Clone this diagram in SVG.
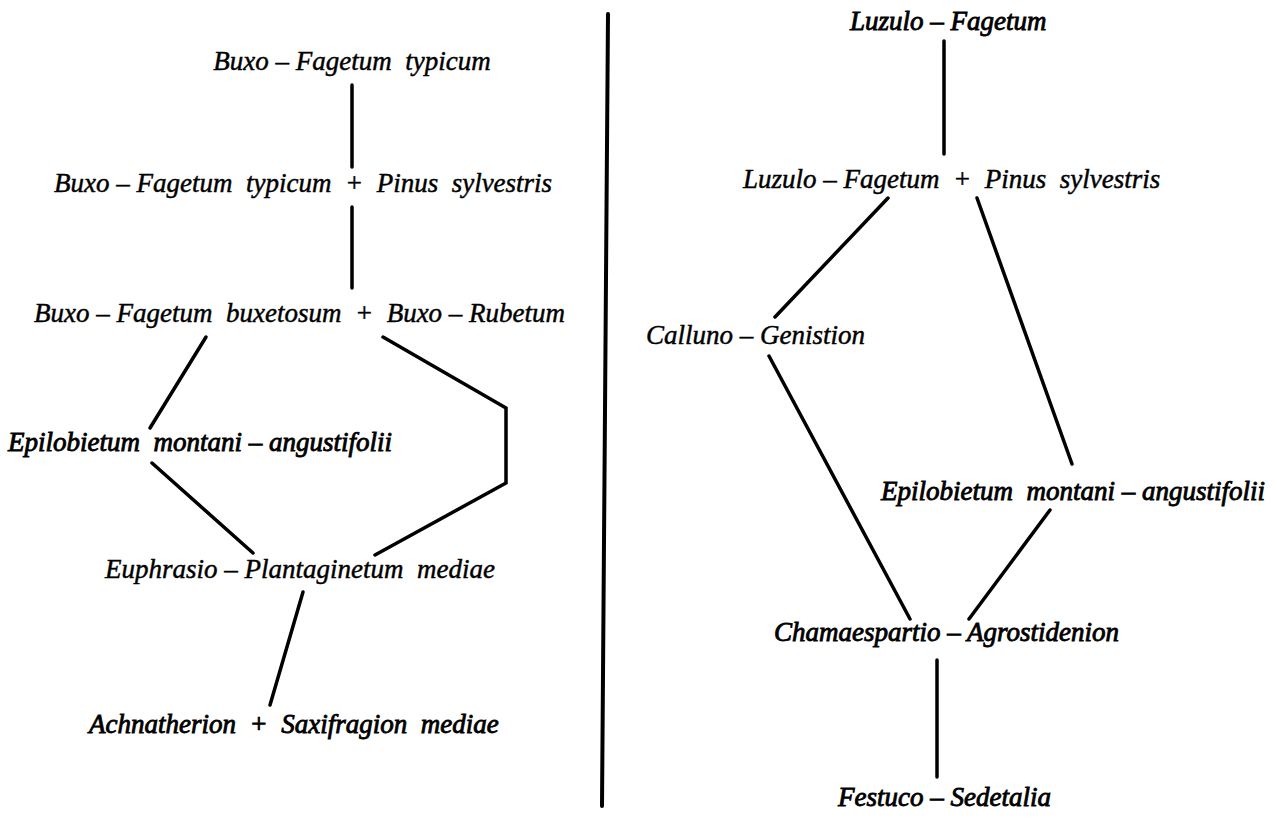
<svg xmlns="http://www.w3.org/2000/svg" width="1277" height="826" viewBox="0 0 1277 826">
  <style>
    .lbl { font-family: "Liberation Serif", "Times New Roman", serif; font-style: italic; font-size: 27px; fill: #000; stroke: #000; stroke-width: 0.45px; white-space: pre; }
    .heavy { stroke-width: 0.85px; }
    .edge { stroke: #000; stroke-width: 3.5; stroke-linecap: round; stroke-linejoin: miter; fill: none; }
    .divider { stroke: #000; stroke-width: 4; stroke-linecap: round; }
  </style>
  <rect width="1277" height="826" fill="#fff"/>

  <!-- column divider -->
  <line class="divider" x1="608" y1="14" x2="602" y2="806"/>

  <!-- connectors -->
  <g id="connectors">
    <!-- left succession -->
    <line class="edge" x1="352" y1="85" x2="352" y2="167"/>
    <line class="edge" x1="352" y1="207" x2="352" y2="288"/>
    <line class="edge" x1="206" y1="337" x2="150" y2="428"/>
    <polyline class="edge" points="383,337 506,408 506,483 375,555"/>
    <line class="edge" x1="152" y1="463" x2="253" y2="553"/>
    <line class="edge" x1="303" y1="592" x2="270" y2="705"/>
    <!-- right succession -->
    <line class="edge" x1="944" y1="41" x2="944" y2="154"/>
    <line class="edge" x1="888" y1="198" x2="775" y2="317"/>
    <line class="edge" x1="977" y1="198" x2="1072" y2="464"/>
    <line class="edge" x1="769" y1="356" x2="910" y2="619"/>
    <line class="edge" x1="1050" y1="510" x2="969" y2="619"/>
    <line class="edge" x1="937" y1="660" x2="937" y2="777"/>
  </g>

  <!-- left column -->
  <g id="buxo-fagetum-typicum"><text class="lbl" x="352" y="70" text-anchor="middle">Buxo – Fagetum  typicum</text></g>
  <g id="buxo-fagetum-typicum-pinus"><text class="lbl" x="54" y="192">Buxo – Fagetum  typicum  +  Pinus  sylvestris</text></g>
  <g id="buxo-fagetum-buxetosum-rubetum"><text class="lbl" x="34" y="322">Buxo – Fagetum  buxetosum  +  Buxo – Rubetum</text></g>
  <g id="epilobietum-left"><text class="lbl heavy" x="8" y="451">Epilobietum  montani – angustifolii</text></g>
  <g id="euphrasio-plantaginetum"><text class="lbl" x="105" y="578">Euphrasio – Plantaginetum  mediae</text></g>
  <g id="achnatherion-saxifragion"><text class="lbl heavy" x="89" y="733">Achnatherion  +  Saxifragion  mediae</text></g>

  <!-- right column -->
  <g id="luzulo-fagetum"><text class="lbl heavy" x="850" y="30">Luzulo – Fagetum</text></g>
  <g id="luzulo-fagetum-pinus"><text class="lbl" x="743" y="188">Luzulo – Fagetum  +  Pinus  sylvestris</text></g>
  <g id="calluno-genistion"><text class="lbl" x="646" y="344">Calluno – Genistion</text></g>
  <g id="epilobietum-right"><text class="lbl heavy" x="881" y="500">Epilobietum  montani – angustifolii</text></g>
  <g id="chamaespartio-agrostidenion"><text class="lbl heavy" x="774" y="641">Chamaespartio – Agrostidenion</text></g>
  <g id="festuco-sedetalia"><text class="lbl heavy" x="838" y="806">Festuco – Sedetalia</text></g>
</svg>
